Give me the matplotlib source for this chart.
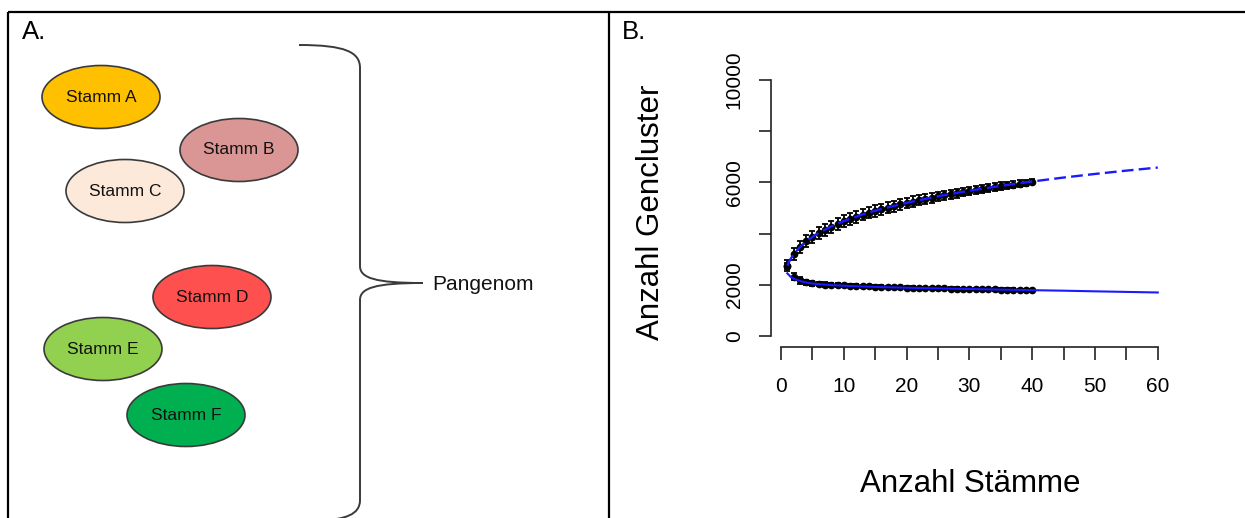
import matplotlib
matplotlib.use("Agg")
import matplotlib.pyplot as plt
from matplotlib.patches import Ellipse, PathPatch
from matplotlib.path import Path

# ---------------- data ----------------
strains = ["Stamm A", "Stamm B", "Stamm C", "Stamm D", "Stamm E", "Stamm F"]
strain_colors = ["#FFC000", "#D99694", "#FDE9D9", "#FF5050", "#92D050", "#00B050"]

n_strains = list(range(1, 41))
pan_values = [2750, 3190, 3470, 3700, 3870, 4020, 4150, 4270, 4380, 4490,
              4580, 4660, 4740, 4810, 4880, 4950, 5010, 5070, 5140, 5200,
              5250, 5300, 5350, 5400, 5450, 5490, 5530, 5570, 5620, 5660,
              5700, 5740, 5770, 5810, 5850, 5880, 5910, 5950, 5980, 6020]
pan_err = [200, 240, 240, 240, 240, 240, 240, 240, 230, 230,
           230, 230, 220, 220, 220, 210, 210, 210, 210, 200,
           200, 200, 190, 190, 190, 180, 180, 180, 170, 170,
           170, 160, 160, 150, 150, 140, 140, 130, 120, 100]
core_values = [2740, 2320, 2170, 2100, 2060, 2030, 2010, 1995, 1985, 1975,
               1965, 1955, 1945, 1938, 1930, 1922, 1915, 1908, 1900, 1893,
               1887, 1881, 1875, 1869, 1864, 1858, 1853, 1848, 1843, 1838,
               1833, 1828, 1824, 1819, 1815, 1811, 1807, 1803, 1799, 1795]
core_err = [120, 150, 120, 100, 90, 80, 80, 70, 70, 70,
            60, 60, 60, 60, 60, 60, 50, 50, 50, 50,
            50, 50, 50, 50, 50, 50, 50, 50, 50, 50,
            50, 50, 50, 50, 50, 50, 50, 50, 50, 50]

fit_n = [1, 1.5, 2, 3, 4, 5, 6, 8, 10, 13, 16, 20, 25, 30, 35, 40, 45, 50, 55, 60]
pan_fit = [2750, 3000, 3190, 3470, 3695, 3870, 4030, 4280, 4490, 4750, 4965,
           5200, 5460, 5675, 5865, 6035, 6190, 6330, 6460, 6580]
core_fit = [2450, 2320, 2240, 2150, 2090, 2050, 2025, 1990, 1965, 1935, 1910,
            1885, 1860, 1835, 1812, 1790, 1770, 1745, 1722, 1700]

x_ticks = [0, 5, 10, 15, 20, 25, 30, 35, 40, 45, 50, 55, 60]
x_ticklabels = ["0", "", "10", "", "20", "", "30", "", "40", "", "50", "", "60"]
y_ticks = [0, 2000, 4000, 6000, 8000, 10000]
y_ticklabels = ["0", "2000", "", "6000", "", "10000"]

# ---------------- figure ----------------
W, H = 1245, 518
fig = plt.figure(figsize=(W / 100, H / 100), dpi=100)
fig.patch.set_facecolor("white")

# background/diagram layer in pixel coordinates
bg = fig.add_axes([0, 0, 1, 1])
bg.set_xlim(0, W)
bg.set_ylim(H, 0)
bg.axis("off")

# table borders
lw_border = 1.6
bg.plot([8, 8], [12, H], color="black", lw=lw_border, solid_capstyle="butt")
bg.plot([609, 609], [12, H], color="black", lw=lw_border, solid_capstyle="butt")
bg.plot([8, W], [12, 12], color="black", lw=lw_border, solid_capstyle="butt")

bg.text(22, 32, "A.", fontsize=18.5, family="Liberation Sans", va="center", ha="left")
bg.text(622, 32, "B.", fontsize=18.5, family="Liberation Sans", va="center", ha="left")

# ellipses
centers = [(101, 97), (239, 150), (125, 191), (212, 297), (103, 349), (186, 415)]
ell_w, ell_h = 118, 63
for (cx, cy), name, col in zip(centers, strains, strain_colors):
    e = Ellipse((cx, cy), ell_w, ell_h, facecolor=col, edgecolor="#3a3a3a", lw=1.2)
    bg.add_patch(e)
    bg.text(cx, cy, name, fontsize=12.5, family="Liberation Sans", ha="center",
            va="center", color="#111111")

# curly brace
verts = [(299, 45), (345, 45), (360, 52), (360, 68),
         (360, 266),
         (360, 278), (375, 283), (423, 283),
         (375, 283), (360, 288), (360, 300),
         (360, 500),
         (360, 515), (345, 519), (320, 521)]
codes = [Path.MOVETO, Path.CURVE4, Path.CURVE4, Path.CURVE4,
         Path.LINETO,
         Path.CURVE4, Path.CURVE4, Path.CURVE4,
         Path.CURVE4, Path.CURVE4, Path.CURVE4,
         Path.LINETO,
         Path.CURVE4, Path.CURVE4, Path.CURVE4]
bg.add_patch(PathPatch(Path(verts, codes), facecolor="none", edgecolor="#3a3a3a", lw=1.4))
bg.text(432, 284, "Pangenom", fontsize=15, family="Liberation Sans", ha="left",
        va="center", color="#111111")

# ---------------- panel B ----------------
px_x0, px_per_x = 781.0, 6.28
px_y0, px_per_y = 336.0, 0.0256
L, R, T, B = 760, 1170, 70, 355
ax = fig.add_axes([L / W, 1 - B / H, (R - L) / W, (B - T) / H])
ax.set_xlim((L - px_x0) / px_per_x, (R - px_x0) / px_per_x)
ax.set_ylim((px_y0 - B) / px_per_y, (px_y0 - T) / px_per_y)
ax.patch.set_alpha(0)

ax.errorbar(n_strains, pan_values, yerr=pan_err, fmt="o", color="black", ms=4.5,
            elinewidth=1.3, capsize=2.3, capthick=1.3, zorder=2)
ax.errorbar(n_strains, core_values, yerr=core_err, fmt="o", color="black", ms=4.5,
            elinewidth=1.3, capsize=2.3, capthick=1.3, zorder=2)
ax.plot(fit_n, pan_fit, color="#1a1aff", lw=1.7, ls=(0, (5, 2.2)), zorder=3)
ax.plot(fit_n, core_fit, color="#1a1aff", lw=1.5, zorder=3)

for s in ["top", "right"]:
    ax.spines[s].set_visible(False)
ax.spines["left"].set_bounds(0, 10000)
ax.spines["left"].set_position(("data", (771 - px_x0) / px_per_x))
ax.spines["bottom"].set_bounds(0, 60)
ax.spines["bottom"].set_position(("data", (px_y0 - 347) / px_per_y))
for s in ["left", "bottom"]:
    ax.spines[s].set_linewidth(1.2)
    ax.spines[s].set_color("#222222")

ax.set_xticks(x_ticks)
ax.set_xticklabels(x_ticklabels, family="Liberation Sans", fontsize=15)
ax.set_yticks(y_ticks)
ax.set_yticklabels(y_ticklabels, family="Liberation Sans", fontsize=15,
                   rotation=90, va="center")
ax.tick_params(axis="x", length=9.4, width=1.2, pad=12, color="#222222")
ax.tick_params(axis="y", length=8.6, width=1.2, pad=11, color="#222222")

fig.text(970 / W, 1 - 484 / H, "Anzahl Stämme", family="Liberation Sans",
         fontsize=22.5, ha="center", va="center")
fig.text(651 / W, 1 - 212 / H, "Anzahl Gencluster", family="Liberation Sans",
         fontsize=22.5, ha="center", va="center", rotation=90)

fig.savefig("out.png", dpi=100, facecolor="white")
